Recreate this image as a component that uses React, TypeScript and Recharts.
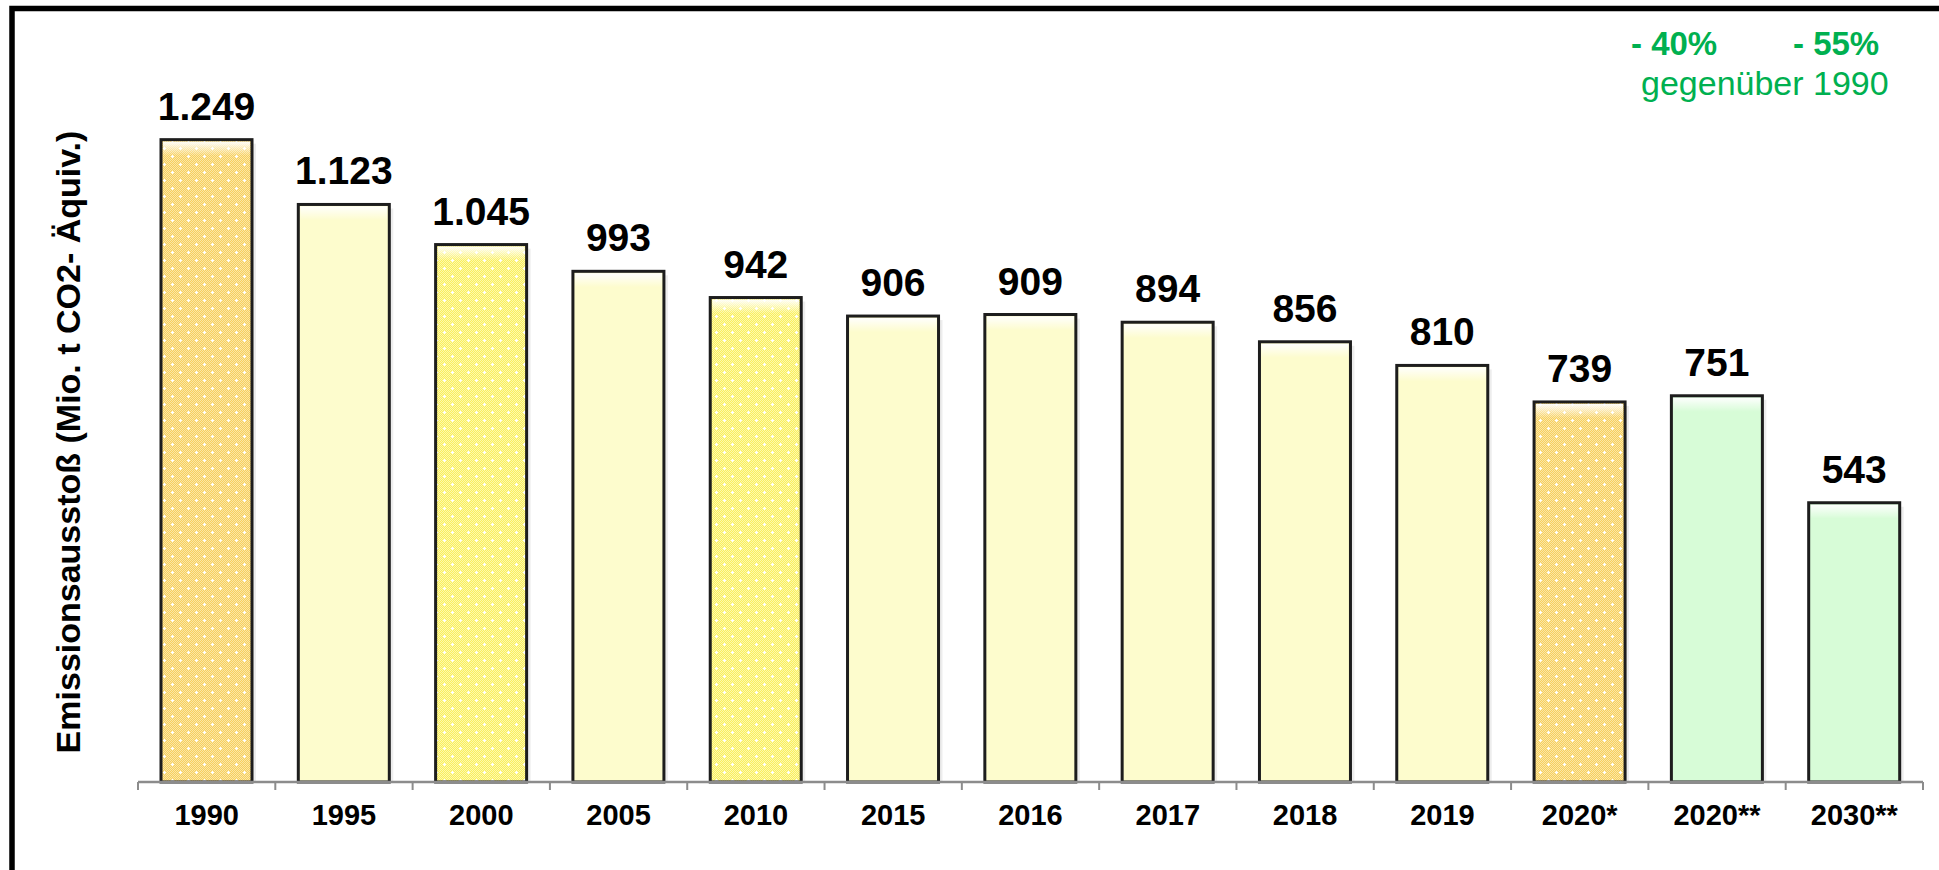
import { BarChart, Bar, XAxis, YAxis, LabelList } from 'recharts';

const categories = ['1990', '1995', '2000', '2005', '2010', '2015', '2016', '2017', '2018', '2019', '2020*', '2020**', '2030**'];
const emissions = [1249, 1123, 1045, 993, 942, 906, 909, 894, 856, 810, 739, 751, 543];
// which fill each bar gets
const barKinds = ['orange', 'plain', 'yellow', 'plain', 'yellow', 'plain', 'plain', 'plain', 'plain', 'plain', 'orange', 'green', 'green'];

const targetLabels = ['- 40%', '- 55%'];
const targetNote = 'gegenüber 1990';
const yTitle = 'Emissionsausstoß (Mio. t CO2- Äquiv.)';

const data = categories.map((year, i) => ({ year, value: emissions[i], kind: barKinds[i] }));

const W = 1939;
const H = 870;
const margin = { top: 62, right: 16, bottom: 38, left: 138 };
const X_AXIS_H = 50;
const BAND = (W - margin.left - margin.right) / categories.length;
const FONT = '"Liberation Sans", Arial, Helvetica, sans-serif';
const GREEN = '#00b050';
const AXIS_GREY = '#8c8c8c';

const baseFill: Record<string, string> = {
  orange: 'url(#checkOrange)',
  yellow: 'url(#checkYellow)',
  plain: '#fdfccd',
  green: '#d7fcd7',
};

const fmt = (v: number) =>
  v >= 1000 ? `${Math.floor(v / 1000)}.${String(v % 1000).padStart(3, '0')}` : String(v);

const BarShape = (props: any) => {
  const { x, y, width, height, payload } = props;
  if (!height || height <= 0) return null;
  const dotted = payload.kind === 'orange' || payload.kind === 'yellow';
  return (
    <g>
      <rect x={x + 4} y={y + 4} width={width} height={height - 4} fill="#000" opacity={0.07} />
      <rect x={x} y={y} width={width} height={height} fill={baseFill[payload.kind]} />
      {dotted && <rect x={x} y={y} width={width} height={height} fill="url(#whiteDots)" />}
      <rect x={x + 2} y={y + 2} width={width - 4} height={14} fill="url(#gloss)" />
      <rect x={x} y={y} width={width} height={height} fill="none" stroke="#1d1d1d" strokeWidth={3} />
    </g>
  );
};

const ValueLabel = (props: any) => {
  const { x, y, width, value } = props;
  return (
    <text
      x={Number(x) + Number(width) / 2}
      y={Number(y) - 20}
      textAnchor="middle"
      fontFamily={FONT}
      fontWeight="bold"
      fontSize={39}
      fill="#000"
    >
      {fmt(Number(value))}
    </text>
  );
};

const YearTick = (props: any) => {
  const { x, y, payload, index } = props;
  return (
    <g>
      <line x1={x - BAND / 2} x2={x - BAND / 2} y1={y} y2={y + 8} stroke={AXIS_GREY} strokeWidth={2} />
      {index === categories.length - 1 && (
        <line x1={x + BAND / 2} x2={x + BAND / 2} y1={y} y2={y + 8} stroke={AXIS_GREY} strokeWidth={2} />
      )}
      <text x={x} y={y + 43} textAnchor="middle" fontFamily={FONT} fontWeight="bold" fontSize={29} fill="#000">
        {payload.value}
      </text>
    </g>
  );
};

export default function App() {
  return (
    <div style={{ position: 'fixed', left: 0, top: 0, width: W, height: H, background: '#fff', fontFamily: FONT }}>
      <BarChart width={W} height={H} data={data} margin={margin}>
        <defs>
          <pattern id="checkOrange" width="2" height="2" patternUnits="userSpaceOnUse">
            <rect width="2" height="2" fill="#f7cf5e" />
            <rect width="1" height="1" fill="#fbe7a6" />
            <rect x="1" y="1" width="1" height="1" fill="#fbe7a6" />
          </pattern>
          <pattern id="checkYellow" width="2" height="2" patternUnits="userSpaceOnUse">
            <rect width="2" height="2" fill="#faef5c" />
            <rect width="1" height="1" fill="#fdf9ad" />
            <rect x="1" y="1" width="1" height="1" fill="#fdf9ad" />
          </pattern>
          <pattern id="whiteDots" width="16" height="16" patternUnits="userSpaceOnUse">
            <rect x="3" y="4" width="3" height="1" fill="#fff" />
            <rect x="4" y="3" width="1" height="3" fill="#fff" />
            <rect x="11" y="12" width="3" height="1" fill="#fff" />
            <rect x="12" y="11" width="1" height="3" fill="#fff" />
          </pattern>
          <linearGradient id="gloss" x1="0" y1="0" x2="0" y2="1">
            <stop offset="0%" stopColor="#fff" stopOpacity={0.95} />
            <stop offset="100%" stopColor="#fff" stopOpacity={0} />
          </linearGradient>
        </defs>
        <XAxis
          dataKey="year"
          height={X_AXIS_H}
          interval={0}
          tickLine={false}
          tickSize={0}
          tickMargin={0}
          axisLine={{ stroke: AXIS_GREY, strokeWidth: 2.5 }}
          tick={<YearTick />}
        />
        <YAxis hide domain={[0, 1400]} />
        <Bar dataKey="value" barSize={91} shape={<BarShape />} isAnimationActive={false}>
          <LabelList dataKey="value" content={<ValueLabel />} />
        </Bar>
      </BarChart>
      <svg width={W} height={H} style={{ position: 'absolute', left: 0, top: 0, pointerEvents: 'none' }}>
        <path d={`M 12 ${H} L 12 8.5 L ${W} 8.5`} stroke="#000" strokeWidth={5.5} fill="none" />
        <text
          x={80}
          y={442}
          transform="rotate(-90, 80, 442)"
          textAnchor="middle"
          fontFamily={FONT}
          fontWeight="bold"
          fontSize={34}
          fill="#000"
        >
          {yTitle}
        </text>
        <text x={1631} y={55} fontFamily={FONT} fontWeight="bold" fontSize={33} fill={GREEN}>
          {targetLabels[0]}
        </text>
        <text x={1793} y={55} fontFamily={FONT} fontWeight="bold" fontSize={33} fill={GREEN}>
          {targetLabels[1]}
        </text>
        <text x={1641} y={95} fontFamily={FONT} fontSize={34} fill={GREEN}>
          {targetNote}
        </text>
      </svg>
    </div>
  );
}
